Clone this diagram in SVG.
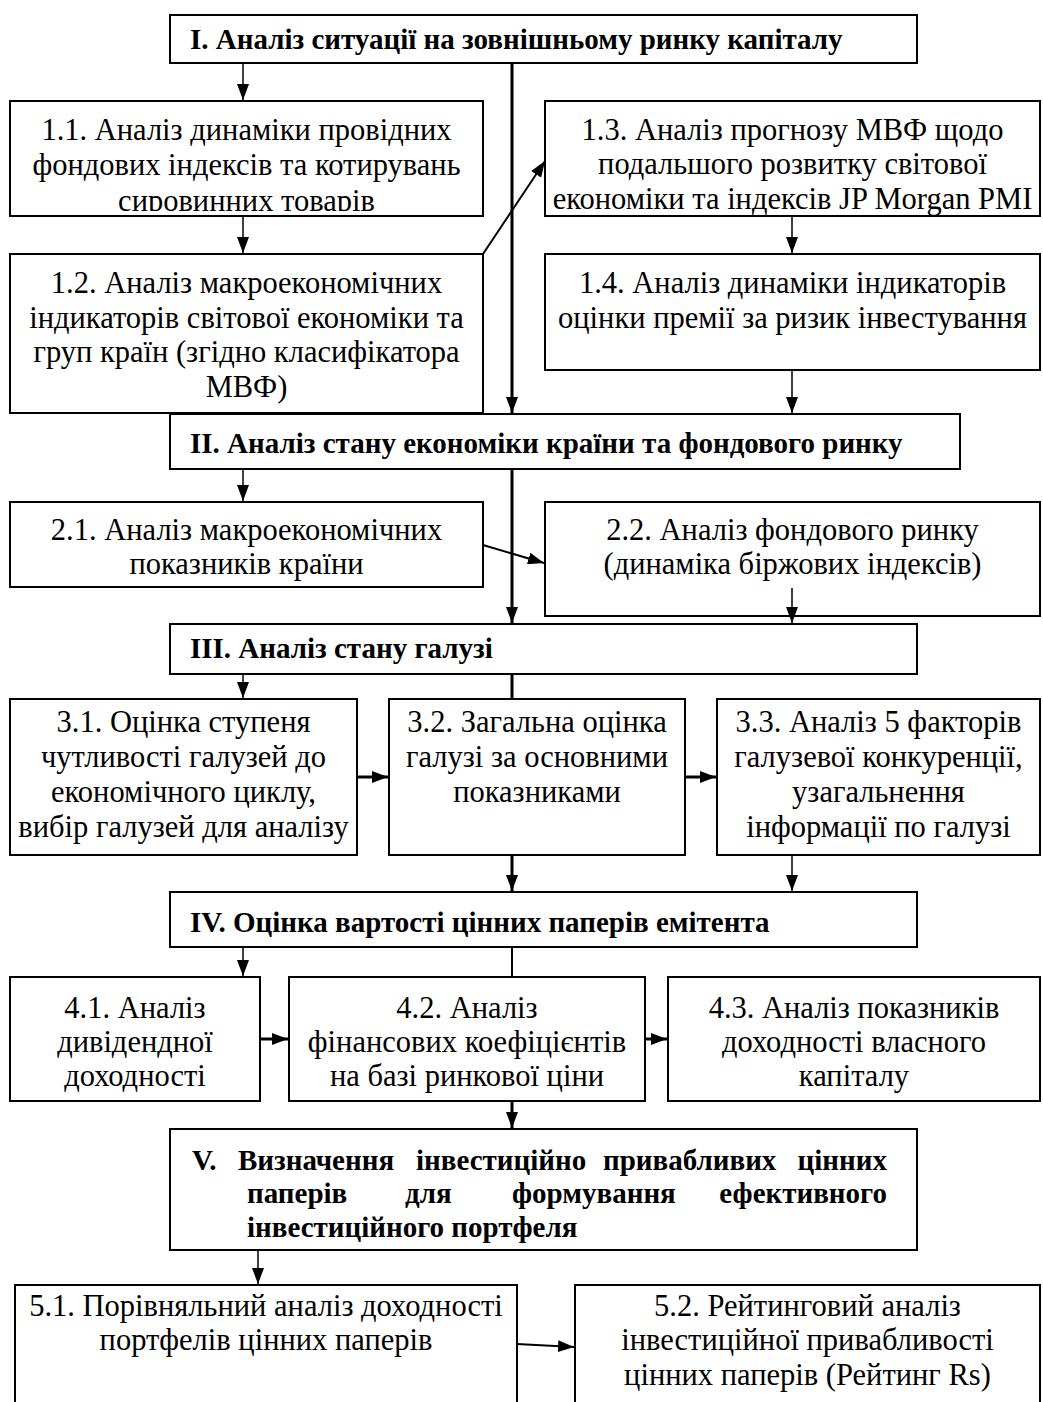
<svg xmlns="http://www.w3.org/2000/svg" width="1043" height="1402" viewBox="0 0 1043 1402">
<style>
.box{fill:#fff;stroke:#000;stroke-width:2}
.t{font-family:"Liberation Serif","Times New Roman",serif;font-size:30.5px;fill:#000}
.c{text-anchor:middle}
.b{font-weight:bold;font-size:29px}
.ln{stroke:#000;stroke-width:1.5;fill:none}
.th{stroke:#000;stroke-width:3;fill:none}
.md{stroke:#000;stroke-width:2;fill:none}
</style>
<defs>
<marker id="ah" markerUnits="userSpaceOnUse" markerWidth="16" markerHeight="12" refX="16" refY="6" orient="auto" viewBox="0 0 16 12">
<path d="M0,0 L16,6 L0,12 z" fill="#000"/>
</marker>
<clipPath id="clip11"><rect x="10" y="101" width="473" height="110"/></clipPath>
</defs>
<rect width="1043" height="1402" fill="#fff"/>

<g id="n1">
<rect class="box" x="170" y="15" width="747" height="48"/>
<text class="t b" x="190" y="49">I. Аналіз ситуації на зовнішньому ринку капіталу</text>
</g>
<g id="n1_1">
<rect class="box" x="10" y="101" width="473" height="115"/>
<g clip-path="url(#clip11)">
<text class="t c" x="246.5" y="140">1.1. Аналіз динаміки провідних</text>
<text class="t c" x="246.5" y="175">фондових індексів та котирувань</text>
<text class="t c" x="246.5" y="211">сировинних товарів</text>
</g>
</g>
<g id="n1_3">
<rect class="box" x="545" y="101" width="495" height="115"/>
<text class="t c" x="792.5" y="140">1.3. Аналіз прогнозу МВФ щодо</text>
<text class="t c" x="792.5" y="174">подальшого розвитку світової</text>
<text class="t c" x="792.5" y="209">економіки та індексів JP Morgan PMI</text>
</g>
<g id="n1_2">
<rect class="box" x="10" y="254" width="473" height="159"/>
<text class="t c" x="246.5" y="293">1.2. Аналіз макроекономічних</text>
<text class="t c" x="246.5" y="328">індикаторів світової економіки та</text>
<text class="t c" x="246.5" y="362">груп країн (згідно класифікатора</text>
<text class="t c" x="246.5" y="397">МВФ)</text>
</g>
<g id="n1_4">
<rect class="box" x="545" y="254" width="495" height="116"/>
<text class="t c" x="792.5" y="293">1.4. Аналіз динаміки індикаторів</text>
<text class="t c" x="792.5" y="328">оцінки премії за ризик інвестування</text>
</g>
<g id="n2">
<rect class="box" x="170" y="414" width="790" height="55"/>
<text class="t b" x="190" y="453">II. Аналіз стану економіки країни та фондового ринку</text>
</g>
<g id="n2_1">
<rect class="box" x="10" y="502" width="473" height="85"/>
<text class="t c" x="246.5" y="540">2.1. Аналіз макроекономічних</text>
<text class="t c" x="246.5" y="574">показників країни</text>
</g>
<g id="n2_2">
<rect class="box" x="545" y="502" width="495" height="114"/>
<text class="t c" x="792.5" y="540">2.2. Аналіз фондового ринку</text>
<text class="t c" x="792.5" y="574">(динаміка біржових індексів)</text>
</g>
<g id="n3">
<rect class="box" x="170" y="624" width="747" height="50"/>
<text class="t b" x="190" y="658">III. Аналіз стану галузі</text>
</g>
<g id="n3_1">
<rect class="box" x="10" y="699" width="347" height="156"/>
<text class="t c" x="183.5" y="732">3.1. Оцінка ступеня</text>
<text class="t c" x="183.5" y="767">чутливості галузей до</text>
<text class="t c" x="183.5" y="802">економічного циклу,</text>
<text class="t c" x="183.5" y="837">вибір галузей для аналізу</text>
</g>
<g id="n3_2">
<rect class="box" x="389" y="699" width="296" height="156"/>
<text class="t c" x="537" y="732">3.2. Загальна оцінка</text>
<text class="t c" x="537" y="767">галузі за основними</text>
<text class="t c" x="537" y="802">показниками</text>
</g>
<g id="n3_3">
<rect class="box" x="717" y="699" width="323" height="156"/>
<text class="t c" x="878.5" y="732">3.3. Аналіз 5 факторів</text>
<text class="t c" x="878.5" y="767">галузевої конкуренції,</text>
<text class="t c" x="878.5" y="802">узагальнення</text>
<text class="t c" x="878.5" y="837">інформації по галузі</text>
</g>
<g id="n4">
<rect class="box" x="170" y="892" width="747" height="55"/>
<text class="t b" x="190" y="932">IV. Оцінка вартості цінних паперів емітента</text>
</g>
<g id="n4_1">
<rect class="box" x="10" y="977" width="250" height="124"/>
<text class="t c" x="135" y="1018">4.1. Аналіз</text>
<text class="t c" x="135" y="1052">дивідендної</text>
<text class="t c" x="135" y="1086">доходності</text>
</g>
<g id="n4_2">
<rect class="box" x="289" y="977" width="356" height="124"/>
<text class="t c" x="467" y="1018">4.2. Аналіз</text>
<text class="t c" x="467" y="1052">фінансових коефіцієнтів</text>
<text class="t c" x="467" y="1086">на базі ринкової ціни</text>
</g>
<g id="n4_3">
<rect class="box" x="668" y="977" width="372" height="124"/>
<text class="t c" x="854" y="1018">4.3. Аналіз показників</text>
<text class="t c" x="854" y="1052">доходності власного</text>
<text class="t c" x="854" y="1086">капіталу</text>
</g>
<g id="n5">
<rect class="box" x="170" y="1129" width="747" height="121"/>
<text class="t b" y="1170"><tspan x="192">V.</tspan><tspan x="238">Визначення</tspan><tspan x="416">інвестиційно</tspan><tspan x="603">привабливих</tspan><tspan x="887" text-anchor="end">цінних</tspan></text>
<text class="t b" y="1203"><tspan x="247">паперів</tspan><tspan x="405">для</tspan><tspan x="512">формування</tspan><tspan x="887" text-anchor="end">ефективного</tspan></text>
<text class="t b" x="247" y="1237">інвестиційного портфеля</text>
</g>
<g id="n5_1">
<rect class="box" x="15" y="1285" width="502" height="140"/>
<text class="t c" x="266" y="1316">5.1. Порівняльний аналіз доходності</text>
<text class="t c" x="266" y="1350">портфелів цінних паперів</text>
</g>
<g id="n5_2">
<rect class="box" x="575" y="1285" width="465" height="140"/>
<text class="t c" x="807.5" y="1316">5.2. Рейтинговий аналіз</text>
<text class="t c" x="807.5" y="1350">інвестиційної привабливості</text>
<text class="t c" x="807.5" y="1385">цінних паперів (Рейтинг Rs)</text>
</g>

<g id="connectors">
<line class="ln" x1="243" y1="63" x2="243" y2="100" marker-end="url(#ah)"/>
<line class="th" x1="512" y1="63" x2="512" y2="413" marker-end="url(#ah)"/>
<line class="ln" x1="243" y1="216" x2="243" y2="253" marker-end="url(#ah)"/>
<line class="ln" x1="792" y1="216" x2="792" y2="253" marker-end="url(#ah)"/>
<line class="md" x1="483" y1="254" x2="545" y2="161" marker-end="url(#ah)"/>
<line class="ln" x1="792" y1="370" x2="792" y2="413" marker-end="url(#ah)"/>
<line class="ln" x1="243" y1="469" x2="243" y2="501" marker-end="url(#ah)"/>
<line class="th" x1="512" y1="469" x2="512" y2="623" marker-end="url(#ah)"/>
<line class="md" x1="483" y1="545" x2="544" y2="563" marker-end="url(#ah)"/>
<line class="ln" x1="792" y1="588" x2="792" y2="623" marker-end="url(#ah)"/>
<line class="ln" x1="243" y1="674" x2="243" y2="698" marker-end="url(#ah)"/>
<line class="th" x1="512" y1="674" x2="512" y2="699"/>
<line class="th" x1="357" y1="777" x2="388" y2="777" marker-end="url(#ah)"/>
<line class="th" x1="685" y1="777" x2="716" y2="777" marker-end="url(#ah)"/>
<line class="th" x1="512" y1="855" x2="512" y2="891" marker-end="url(#ah)"/>
<line class="ln" x1="792" y1="855" x2="792" y2="891" marker-end="url(#ah)"/>
<line class="ln" x1="243" y1="947" x2="243" y2="976" marker-end="url(#ah)"/>
<line class="md" x1="512" y1="947" x2="512" y2="977"/>
<line class="th" x1="260" y1="1039" x2="288" y2="1039" marker-end="url(#ah)"/>
<line class="th" x1="645" y1="1039" x2="667" y2="1039" marker-end="url(#ah)"/>
<line class="th" x1="512" y1="1101" x2="512" y2="1128" marker-end="url(#ah)"/>
<line class="ln" x1="258" y1="1250" x2="258" y2="1284" marker-end="url(#ah)"/>
<line class="md" x1="517" y1="1344" x2="574" y2="1347" marker-end="url(#ah)"/>
</g>
</svg>
